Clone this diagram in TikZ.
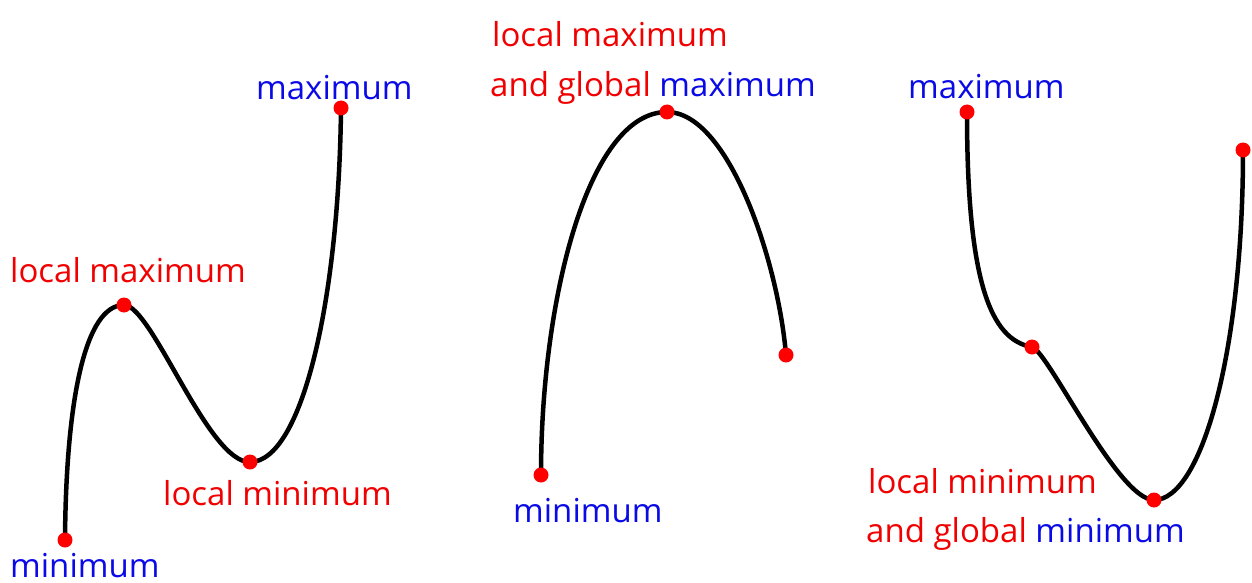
\documentclass[tikz,border=0pt]{standalone}
\usepackage{fontspec}
\setmainfont{Open Sans}
\definecolor{lblred}{RGB}{240,0,0}
\definecolor{lblblue}{RGB}{10,10,230}
\begin{document}
\begin{tikzpicture}[x=1pt,y=-1pt,
  curve/.style={line width=4.5pt,black,line cap=round},
  pt/.style={circle,fill=red,inner sep=0pt,minimum size=15pt},
  lbl/.style={anchor=base west,inner sep=0pt,font=\fontsize{33}{40}\selectfont},
  rl/.style={lbl,text=lblred},
  bl/.style={lbl,text=lblblue}]
\useasboundingbox (0,0) rectangle (1252,583);
% left curve
\coordinate (a1) at (65,540);
\coordinate (a2) at (124,305);
\coordinate (a3) at (250,462);
\coordinate (a4) at (341,108);
\draw[curve] (a1) .. controls (66,400) and (85,305) .. (a2)
  .. controls (152,305) and (208,463) .. (a3)
  .. controls (302,462) and (339,300) .. (a4);
% middle curve
\coordinate (b1) at (541,475);
\coordinate (b2) at (667,112);
\coordinate (b3) at (786,355);
\draw[curve] (b1) .. controls (541,300) and (588,112) .. (b2)
  .. controls (728,112) and (778,260) .. (b3);
% right curve
\coordinate (c1) at (967,112);
\coordinate (c2) at (1032,347);
\coordinate (c3) at (1154,500);
\coordinate (c4) at (1243,150);
\draw[curve] (c1) .. controls (967,280) and (990,340) .. (c2)
  .. controls (1048,351) and (1118,500) .. (c3)
  .. controls (1202,500) and (1243,350) .. (c4);
% dots
\foreach \p in {a1,a2,a3,a4,b1,b2,b3,c1,c2,c3,c4} \node[pt] (d\p) at (\p) {};
% labels
\node[bl] (t1) at (256,100) {maximum};
\node[rl] (t2) at (10,282) {local maximum};
\node[rl] (t3) at (163,505) {local minimum};
\node[bl] (t4) at (10,577) {minimum};
\node[rl] (t5) at (492,47) {local maximum};
\node[lbl] (t6) at (490,97) {\color{lblred}and global \color{lblblue}maximum};
\node[bl] (t7) at (513,522) {minimum};
\node[bl] (t8) at (908,99) {maximum};
\node[rl] (t9) at (868,493) {local minimum};
\node[lbl] (t10) at (866,542) {\color{lblred}and global \color{lblblue}minimum};
\end{tikzpicture}
\end{document}
